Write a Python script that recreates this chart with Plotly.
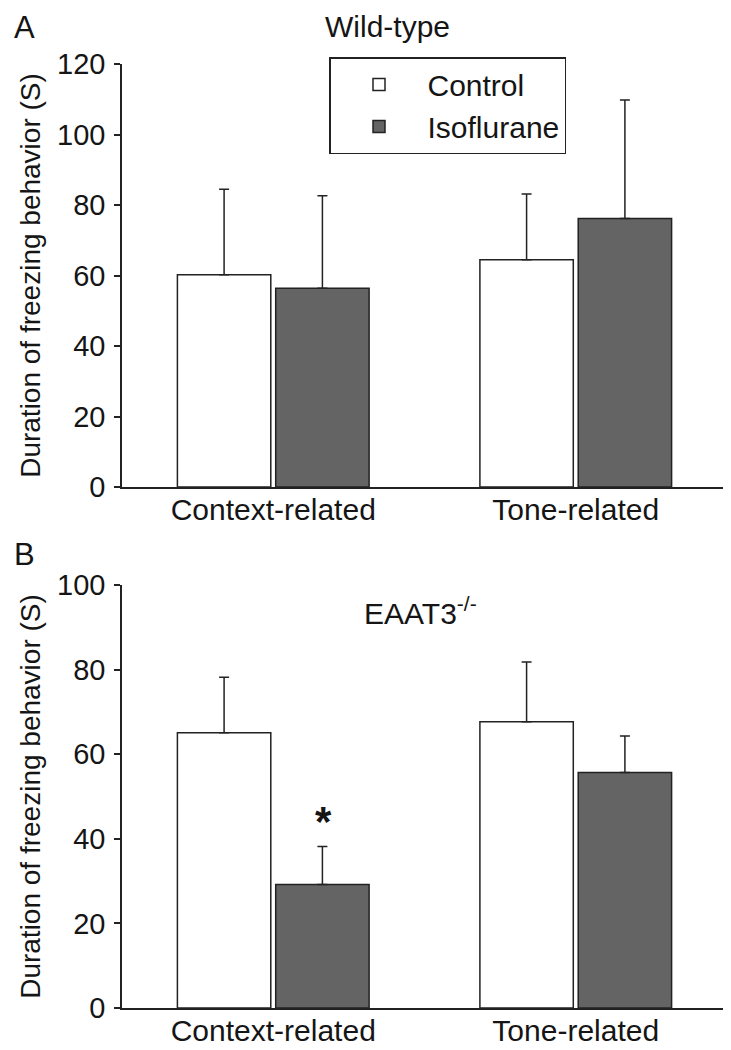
import plotly.graph_objects as go

categories = ["Context-related", "Tone-related"]
groups = ["Control", "Isoflurane"]

# Panel A (Wild-type)
wt_control = [60.2, 64.5]
wt_control_err = [24.3, 18.6]
wt_iso = [56.4, 76.2]
wt_iso_err = [26.2, 33.6]

# Panel B (EAAT3-/-)
ko_control = [65.1, 67.7]
ko_control_err = [13.1, 14.1]
ko_iso = [29.2, 55.7]
ko_iso_err = [9.0, 8.6]

star_y = 38

# page body has an 8px margin, so the figure is 8px smaller than the window
OFF = 8
W, H = 731 - OFF, 1050 - OFF
FONT = "Liberation Sans, Arial, sans-serif"
DARK = "#646464"
INK = "#151515"

def px(xp):
    return (xp - OFF) / W

def py(yp):
    return 1 - (yp - OFF) / H

fig = go.Figure()

def add_bars(vals, errs, name, color, xa, ya, show):
    fig.add_trace(go.Bar(
        x=categories, y=vals, name=name, xaxis=xa, yaxis=ya,
        marker=dict(color=color, line=dict(color="#222222", width=1.5)),
        error_y=dict(type="data", symmetric=False, array=errs,
                     arrayminus=[0] * len(errs), color="#222222",
                     thickness=1.5, width=5),
        showlegend=show, legendgroup=name,
    ))

add_bars(wt_control, wt_control_err, groups[0], "white", "x", "y", True)
add_bars(wt_iso, wt_iso_err, groups[1], DARK, "x", "y", True)
add_bars(ko_control, ko_control_err, groups[0], "white", "x2", "y2", False)
add_bars(ko_iso, ko_iso_err, groups[1], DARK, "x2", "y2", False)

axis_common = dict(showline=True, linecolor="#222222", linewidth=1.5,
                   showgrid=False, zeroline=False, automargin=False)

xfont = dict(family=FONT, size=30, color=INK)
yfont = dict(family=FONT, size=29, color=INK)

ytitle = dict(text="Duration of freezing behavior (S)",
              font=dict(family=FONT, size=28, color=INK), standoff=8)

fig.update_layout(
    width=W, height=H,
    margin=dict(l=0, r=0, t=0, b=0, autoexpand=False),
    paper_bgcolor="white", plot_bgcolor="white",
    barmode="group", bargap=0.35, bargroupgap=0.05,
    font=dict(family=FONT, color=INK),
    xaxis=dict(domain=[px(122), px(727)], anchor="y", ticks="",
               range=[-0.5, 1.5], tickfont=xfont, ticklabelstandoff=-5,
               **axis_common),
    yaxis=dict(domain=[py(487), py(64)], anchor="x", range=[0, 120],
               tickvals=[0, 20, 40, 60, 80, 100, 120], ticks="outside",
               ticklen=6, tickwidth=1.5, tickcolor="#222222",
               ticklabelstandoff=3, tickfont=yfont,
               title=ytitle, **axis_common),
    xaxis2=dict(domain=[px(122), px(727)], anchor="y2", ticks="",
                range=[-0.5, 1.5], tickfont=xfont, ticklabelstandoff=-5,
                **axis_common),
    yaxis2=dict(domain=[py(1008), py(585)], anchor="x2", range=[0, 100],
                tickvals=[0, 20, 40, 60, 80, 100], ticks="outside",
                ticklen=6, tickwidth=1.5, tickcolor="#222222",
                ticklabelstandoff=3, tickfont=yfont,
                title=ytitle, **axis_common),
    legend=dict(x=px(329), y=py(57), xanchor="left", yanchor="top",
                bordercolor="#222222", borderwidth=1.5, bgcolor="white",
                font=dict(family=FONT, size=30, color=INK),
                itemwidth=87, tracegroupgap=0),
    annotations=[
        dict(text="A", x=px(24), y=1.0, xref="paper", yref="paper",
             xanchor="center", yanchor="top", showarrow=False,
             font=dict(family=FONT, size=31, color=INK)),
        dict(text="B", x=px(24), y=py(554), xref="paper", yref="paper",
             xanchor="center", yanchor="middle", showarrow=False,
             font=dict(family=FONT, size=31, color=INK)),
        dict(text="Wild-type", x=px(387), y=1.0, xref="paper", yref="paper",
             xanchor="center", yanchor="top", showarrow=False,
             font=dict(family=FONT, size=30, color=INK)),
        dict(text="EAAT3<sup>-/-</sup>", x=px(420), y=py(611), xref="paper",
             yref="paper", xanchor="center", yanchor="middle", showarrow=False,
             font=dict(family=FONT, size=30, color=INK)),
        dict(text="<b>*</b>", x=categories[0], y=star_y, xref="x2", yref="y2",
             xshift=50, xanchor="center", yanchor="bottom", showarrow=False,
             font=dict(family=FONT, size=42, color=INK)),
    ],
)

fig.write_html("out.html")
